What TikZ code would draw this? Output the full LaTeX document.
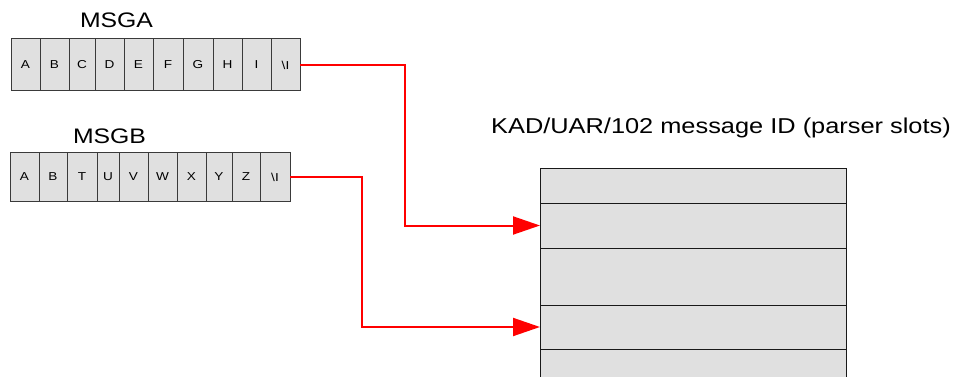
\documentclass[tikz,border=0pt]{standalone}
\usepackage{fontspec}
\newfontfamily\lbl{Liberation Sans}[FakeStretch=1.18]
\usetikzlibrary{arrows.meta}
\definecolor{cellfill}{HTML}{E0E0E0}
\definecolor{celldraw}{HTML}{3A3A3A}
\tikzset{
  cellbox/.style={draw=celldraw, fill=cellfill, line width=1pt, inner sep=0pt, outer sep=0pt, font=\lbl\fontsize{11}{13}\selectfont},
  slotbox/.style={draw=black!90, fill=cellfill, line width=1pt, inner sep=0pt, outer sep=0pt},
  heading/.style={font=\lbl\fontsize{21}{25}\selectfont, inner sep=0pt, anchor=base},
  link/.style={draw=red, line width=2pt, -{Triangle[length=27pt,width=18pt]}}
}
\begin{document}
\begin{tikzpicture}[x=1pt,y=-1pt]
\fill[white] (0,0) rectangle (956,377);
\useasboundingbox (0,0) rectangle (956,377);
\clip (0,0) rectangle (956,377);
% MSGA
\node[heading] (ta) at (116.5,28) {MSGA};
\foreach \x/\y [count=\i] in {11/40,40/69,69/95,95/124,124/153,153/183,183/213,213/242,242/271,271/300}{
  \pgfmathsetmacro{\w}{\y-\x}
  \pgfmathsetmacro{\c}{(\x+\y)/2}
  \node[cellbox, minimum width=\w pt, minimum height=52pt] (a\i) at (\c,65) {};
}
\foreach \t [count=\i] in {A,B,C,D,E,F,G,H,I,\textbackslash I}{
  \node[font=\lbl\fontsize{11.5}{13}\selectfont, inner sep=0pt] at (a\i) {\t};
}
% MSGB
\node[heading] (tb) at (109.5,143) {MSGB};
\foreach \x/\y [count=\i] in {10/39,39/67,67/97,97/119,119/148,148/177,177/206,206/232,232/260,260/290}{
  \pgfmathsetmacro{\w}{\y-\x}
  \pgfmathsetmacro{\c}{(\x+\y)/2}
  \node[cellbox, minimum width=\w pt, minimum height=48pt] (b\i) at (\c,177) {};
}
\foreach \t [count=\i] in {A,B,T,U,V,W,X,Y,Z,\textbackslash I}{
  \node[font=\lbl\fontsize{11.5}{13}\selectfont, inner sep=0pt] at (b\i) {\t};
}
% Table
\node[heading, font=\lbl\fontsize{21.5}{25}\selectfont] (tt) at (721,134) {KAD/UAR/102 message ID (parser slots)};
\foreach \ya/\yb [count=\i] in {169/203,203/248,248/305,305/349,349/400}{
  \pgfmathsetmacro{\h}{\yb-\ya}
  \pgfmathsetmacro{\c}{(\ya+\yb)/2}
  \node[slotbox, minimum width=306pt, minimum height=\h pt] (s\i) at (693,\c) {};
}
% connectors
\coordinate (ka) at (405,65);
\coordinate (kb) at (362,177);
\draw[link] (a10.east) -- (ka) |- (s2.west);
\draw[link] (b10.east) -- (kb) |- (s4.west);
\end{tikzpicture}
\end{document}
